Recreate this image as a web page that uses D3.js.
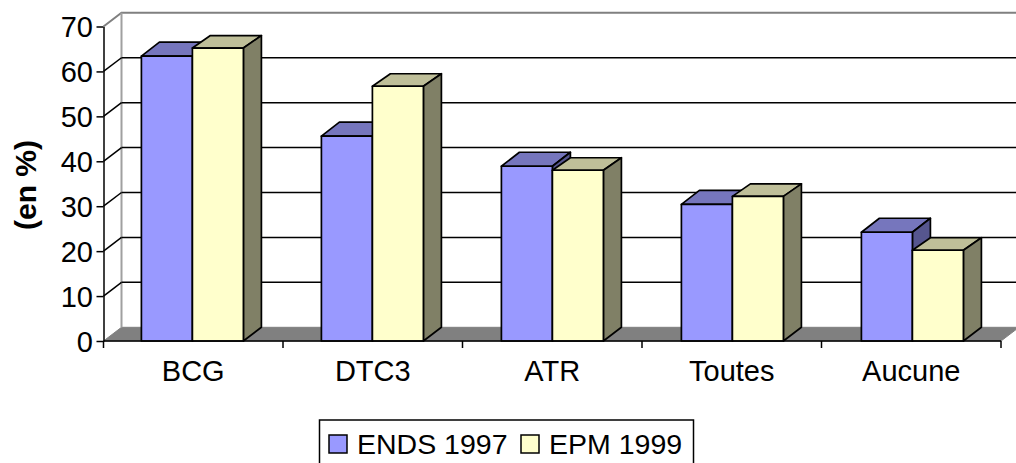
<!DOCTYPE html>
<html>
<head>
<meta charset="utf-8">
<script src="https://cdnjs.cloudflare.com/ajax/libs/d3/7.8.5/d3.min.js"></script>
<style>
  html, body { margin: 0; padding: 0; background: #fff; overflow: hidden; }
  svg { display: block; }
  text { font-family: "Liberation Sans", Arial, sans-serif; fill: #000; }
</style>
</head>
<body>
<div class="chart"></div>
<script>
////////// DATA //////////

var categories = ["BCG", "DTC3", "ATR", "Toutes", "Aucune"];
var seriesNames = ["ENDS 1997", "EPM 1999"];
var ends1997 = [63.4, 45.6, 38.9, 30.4, 24.2];
var epm1999 = [65.2, 56.7, 38, 32.2, 20.2];
var yTicks = [0, 10, 20, 30, 40, 50, 60, 70];


////////// SETUP //////////

var width = 1016, height = 463;
var depthX = 18, depthY = 13.7;   // 3d offset of the back wall

var colours = {
  "ENDS 1997": { front: "#9999ff", top: "#7676bd", side: "#56568f", depth: 14 },
  "EPM 1999": { front: "#ffffcc", top: "#bfbf99", side: "#808066", depth: 12.5 }
};

// ticks and labels
var x = d3.scaleBand()
    .domain(categories)
    .range([103.5, 1001]);

// bars run on a very slightly wider pitch than the ticks
var xBar = d3.scaleBand()
    .domain(categories)
    .range([104, 1004]);

var xInner = d3.scaleBand()
    .domain(seriesNames)
    .range([37.4, 139.4]);

var y = d3.scaleLinear()
    .domain([0, 70])
    .range([341, 26.5]);

var svg = d3.select(".chart")
    .append("svg")
    .attr("width", width)
    .attr("height", height);


////////// WALLS //////////

var x0 = x.range()[0], x1 = x.range()[1];

// floor
svg.append("path")
    .attr("d", d3.line()([[x0, y(0)], [x0 + depthX, y(0) - depthY], [x1 + depthX, y(0) - depthY], [x1, y(0)]]) + "Z")
    .attr("fill", "#808080")
    .attr("stroke", "#808080");

// left wall edge and top of back wall
svg.append("path")
    .attr("d", d3.line()([[x0, y(70)], [x0 + depthX, y(70) - depthY], [width, y(70) - depthY]]))
    .attr("fill", "none")
    .attr("stroke", "#808080")
    .attr("stroke-width", 2);

svg.append("line")
    .attr("x1", x0 + depthX)
    .attr("x2", x0 + depthX)
    .attr("y1", y(70) - depthY)
    .attr("y2", y(0) - depthY)
    .attr("stroke", "#a0a0a0")
    .attr("stroke-width", 2);

// gridlines on the back wall
svg.append("g")
    .selectAll("line")
    .data(yTicks.filter(function(d) { return d > 0 && d < 70; }))
    .enter()
    .append("line")
    .attr("x1", x0 + depthX)
    .attr("x2", width)
    .attr("y1", function(d) { return y(d) - depthY; })
    .attr("y2", function(d) { return y(d) - depthY; })
    .attr("stroke", "#000")
    .attr("stroke-width", 1.5);

// gridlines on the side wall
svg.append("g")
    .selectAll("line")
    .data(yTicks.filter(function(d) { return d > 0 && d < 70; }))
    .enter()
    .append("line")
    .attr("x1", x0)
    .attr("x2", x0 + depthX)
    .attr("y1", function(d) { return y(d); })
    .attr("y2", function(d) { return y(d) - depthY; })
    .attr("stroke", "#000")
    .attr("stroke-width", 1.5);


////////// BARS //////////

var bars = [];
categories.forEach(function(c, i) {
  bars.push({ cat: c, series: seriesNames[0], value: ends1997[i] });
  bars.push({ cat: c, series: seriesNames[1], value: epm1999[i] });
});

var bar = svg.append("g")
    .selectAll("g")
    .data(bars)
    .enter()
    .append("g")
    .attr("stroke", "#000")
    .attr("stroke-width", 1.7)
    .attr("stroke-linejoin", "round");

function left(d) { return xBar(d.cat) + xInner(d.series); }
function right(d) { return left(d) + xInner.bandwidth(); }

bar.append("path")
    .attr("fill", function(d) { return colours[d.series].top; })
    .attr("d", function(d) {
      var t = y(d.value), dy = colours[d.series].depth;
      return d3.line()([[left(d), t], [left(d) + depthX, t - dy], [right(d) + depthX, t - dy], [right(d), t]]) + "Z";
    });

bar.append("path")
    .attr("fill", function(d) { return colours[d.series].side; })
    .attr("d", function(d) {
      var t = y(d.value), b = y(0), dy = colours[d.series].depth;
      return d3.line()([[right(d), t], [right(d) + depthX, t - dy], [right(d) + depthX, b - depthY], [right(d), b]]) + "Z";
    });

bar.append("rect")
    .attr("fill", function(d) { return colours[d.series].front; })
    .attr("x", left)
    .attr("y", function(d) { return y(d.value); })
    .attr("width", xInner.bandwidth())
    .attr("height", function(d) { return y(0) - y(d.value); });


////////// AXES //////////

var yAxis = d3.axisLeft(y)
    .tickValues(yTicks)
    .tickSize(7)
    .tickSizeOuter(0)
    .tickPadding(3.5);

var yG = svg.append("g")
    .attr("transform", "translate(" + x0 + ",0)")
    .call(yAxis);

yG.selectAll("line, path").attr("stroke", "#000").attr("stroke-width", 1.5);
yG.selectAll("text").attr("font-size", 29).attr("fill", "#000").attr("dy", "0.36em");

// x axis: ticks sit on the band edges, labels in the middle
var xAxisG = svg.append("g");

xAxisG.append("line")
    .attr("x1", x0)
    .attr("x2", x1)
    .attr("y1", y(0))
    .attr("y2", y(0))
    .attr("stroke", "#000")
    .attr("stroke-width", 1.5);

xAxisG.selectAll(".tick")
    .data(categories.concat([null]))
    .enter()
    .append("line")
    .attr("class", "tick")
    .attr("x1", function(d) { return d ? x(d) : x1; })
    .attr("x2", function(d) { return d ? x(d) : x1; })
    .attr("y1", y(0))
    .attr("y2", y(0) + 7)
    .attr("stroke", "#000")
    .attr("stroke-width", 1.5);

xAxisG.selectAll(".label")
    .data(categories)
    .enter()
    .append("text")
    .attr("class", "label")
    .attr("x", function(d) { return x(d) + x.bandwidth() / 2; })
    .attr("y", 381)
    .attr("text-anchor", "middle")
    .attr("font-size", 29)
    .text(function(d) { return d; });

svg.append("text")
    .attr("transform", "translate(36,185) rotate(-90)")
    .attr("text-anchor", "middle")
    .attr("font-size", 30)
    .attr("font-weight", "bold")
    .text("(en %)");


////////// LEGEND //////////

svg.append("rect")
    .attr("x", 319.5)
    .attr("y", 420)
    .attr("width", 374)
    .attr("height", 60)
    .attr("fill", "#fff")
    .attr("stroke", "#000")
    .attr("stroke-width", 1.5);

var legendX = [329, 521];

var legend = svg.append("g")
    .selectAll("g")
    .data(seriesNames)
    .enter()
    .append("g")
    .attr("transform", function(d, i) { return "translate(" + legendX[i] + ",435)"; });

legend.append("rect")
    .attr("width", 18)
    .attr("height", 18)
    .attr("fill", function(d) { return colours[d].front; })
    .attr("stroke", "#000")
    .attr("stroke-width", 1.5);

legend.append("text")
    .attr("x", 28)
    .attr("y", 19)
    .attr("font-size", 28.5)
    .text(function(d) { return d; });
</script>
</body>
</html>
